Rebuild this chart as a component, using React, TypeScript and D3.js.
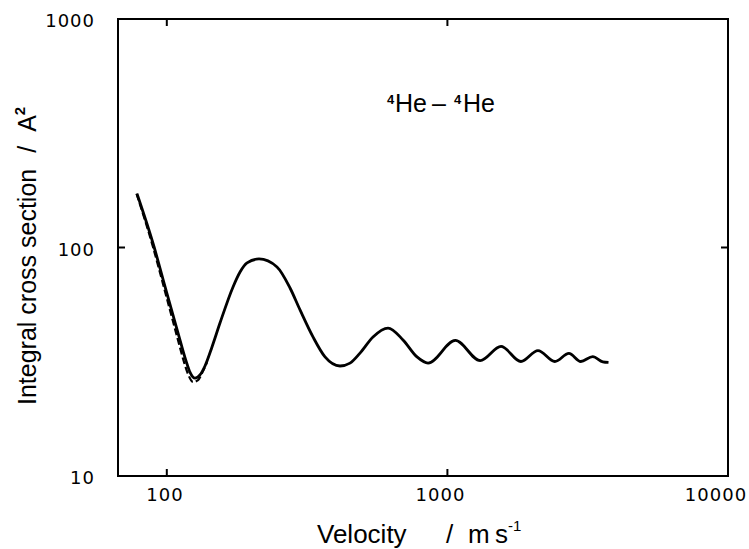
import React from "react";
import * as d3 from "d3";

const W = 749;
const H = 549;

// solid curve (velocity m/s, cross section A^2)
const solidV = [78.3, 90, 97, 111.4, 117.1, 120.9, 126.1, 131.3, 136.8, 144.9, 154.7, 172.2, 182.4, 193.2, 213.1, 247, 274.9, 298.4, 331.9, 366.3, 414.3, 449.7, 488.1, 543.1, 614.3, 694.7, 779.3, 853, 1067, 1309, 1553, 1828, 2103, 2415, 2711, 2987, 3296, 3580, 3751];
const solidS = [172, 101, 72.4, 39.4, 31.9, 28.5, 26.8, 27.7, 30.3, 36.7, 46.7, 67.2, 78.1, 85.6, 89.1, 82.2, 66.5, 53.3, 40.6, 33.2, 30.3, 31.2, 34.5, 40.6, 44.4, 39.4, 33.2, 31.2, 39.2, 32.0, 36.9, 31.7, 35.4, 31.7, 34.4, 31.7, 33.3, 31.6, 31.4];

// dashed curve (deviates near the first minimum)
const dashV = [78.0, 89.3, 96.1, 109.6, 115.2, 119.0, 124.0, 129.2, 134.6, 139.1];
const dashS = [172, 100.5, 72.1, 39.4, 31.5, 27.95, 25.8, 26.3, 28.8, 31.5];

const xTicks = [100, 1000, 10000];
const yTicks = [10, 100, 1000];

const FONT = "'Liberation Sans', Arial, sans-serif";
const TICKFONT = "'DejaVu Sans', sans-serif";

export default function App() {
  const left = 118, right = 728, top = 19, bottom = 476;
  const x = d3.scaleLog().domain([67, 10000]).range([left, right]);
  const y = d3.scaleLog().domain([10, 1000]).range([bottom, top]);
  const xLab = d3.scaleLog().domain([100, 10000]).range([165, 716]);

  const line = d3
    .line<[number, number]>()
    .x((d) => x(d[0]))
    .y((d) => y(d[1]))
    .curve(d3.curveMonotoneX);

  const solid = line(solidV.map((v, i) => [v, solidS[i]]) as [number, number][]) || "";
  const dashed = line(dashV.map((v, i) => [v, dashS[i]]) as [number, number][]) || "";

  const tl = 7;

  return (
    <svg
      width={W}
      height={H}
      style={{ position: "absolute", left: 0, top: 0, background: "#fff" }}
      fontFamily={FONT}
    >
      <rect x={0} y={0} width={W} height={H} fill="#fff" />
      {/* frame */}
      <rect x={left} y={top} width={right - left} height={bottom - top} fill="none" stroke="#000" strokeWidth={2} />
      {/* ticks */}
      {xTicks.filter((t) => t < 10000).map((t) => (
        <g key={"xt" + t}>
          <line x1={x(t)} x2={x(t)} y1={bottom} y2={bottom - tl} stroke="#000" strokeWidth={2} />
          <line x1={x(t)} x2={x(t)} y1={top} y2={top + tl} stroke="#000" strokeWidth={2} />
        </g>
      ))}
      {yTicks.filter((t) => t === 100).map((t) => (
        <g key={"yt" + t}>
          <line x1={left} x2={left + tl} y1={y(t)} y2={y(t)} stroke="#000" strokeWidth={2} />
          <line x1={right} x2={right - tl} y1={y(t)} y2={y(t)} stroke="#000" strokeWidth={2} />
        </g>
      ))}
      {/* tick labels */}
      {xTicks.map((t) => (
        <text key={"xl" + t} x={xLab(t)} y={501} textAnchor="middle" fontSize={18} letterSpacing={1} fontFamily={TICKFONT}>
          {String(t)}
        </text>
      ))}
      {yTicks.map((t) => (
        <text key={"yl" + t} x={95} y={y(t) + 8} textAnchor="end" fontSize={18} letterSpacing={1} fontFamily={TICKFONT}>
          {String(t)}
        </text>
      ))}
      {/* curves */}
      <path d={dashed} fill="none" stroke="#000" strokeWidth={2.2} strokeDasharray="7,3" />
      <path d={solid} fill="none" stroke="#000" strokeWidth={2.8} strokeLinejoin="round" />
      {/* annotation */}
      <text y={112} fontSize={25}>
        <tspan x={387} dy={-8} fontSize={13} fontWeight="bold">4</tspan>
        <tspan x={395} dy={8}>He</tspan>
        <tspan x={432}>–</tspan>
        <tspan x={454} dy={-8} fontSize={13} fontWeight="bold">4</tspan>
        <tspan x={463} dy={8}>He</tspan>
      </text>
      {/* axis titles */}
      <text y={543} fontSize={26}>
        <tspan x={317}>Velocity</tspan>
        <tspan x={446}>/</tspan>
        <tspan x={468}>m</tspan>
        <tspan x={495}>s</tspan>
        <tspan x={508} dy={-12} fontSize={15}>-1</tspan>
      </text>
      <text transform="translate(36,405) rotate(-90)" fontSize={25}>
        Integral cross section
        <tspan dx={16}>/</tspan>
        <tspan dx={14}>A</tspan>
        <tspan dy={-11} fontSize={15} fontWeight="bold">2</tspan>
      </text>
    </svg>
  );
}
